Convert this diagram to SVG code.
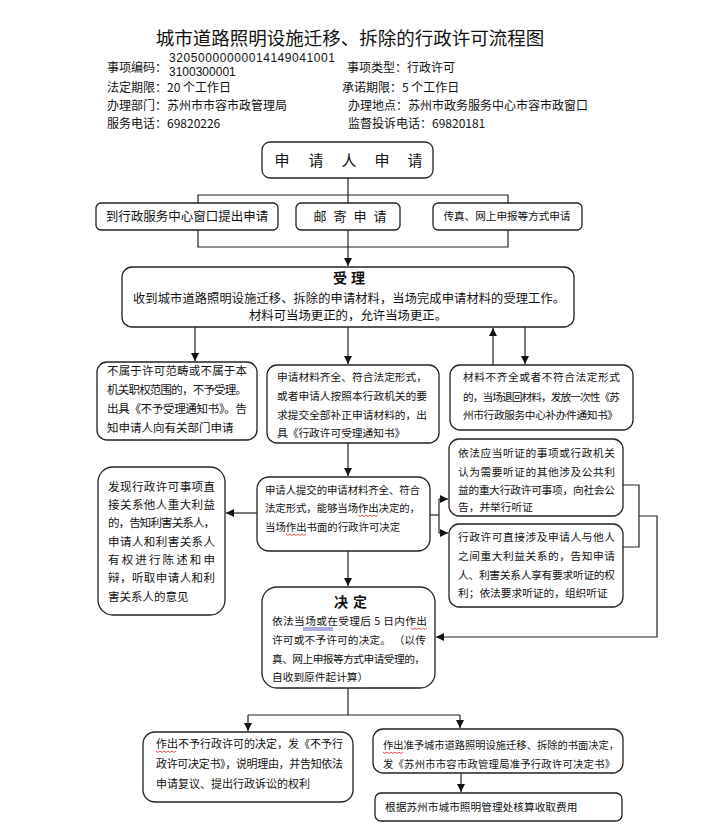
<svg xmlns="http://www.w3.org/2000/svg" width="710" height="832" viewBox="0 0 710 832">
<style>
.box{fill:#fff;stroke:#222;stroke-width:1.3}
.ln{fill:none;stroke:#222;stroke-width:1.2}
.t{font-family:"Noto Sans CJK SC","Noto Sans",sans-serif;fill:#111}
.h{font-size:12px}
.num{font-family:"Liberation Sans",Arial,sans-serif;font-size:12px;fill:#111}
.s11{font-size:11.5px}
.s10{font-size:10.7px}
.b{font-weight:bold;font-size:14px}
.sq{fill:none;stroke:#d22;stroke-width:0.8}
.sqb{fill:none;stroke:#33a;stroke-width:0.8}
</style>
<defs>
<marker id="ar" markerUnits="userSpaceOnUse" markerWidth="8" markerHeight="8" refX="8" refY="4" orient="auto">
<path d="M0,0 L8,4 L0,8 z" fill="#111"/>
</marker>
</defs>
<rect width="710" height="832" fill="#fff"/>

<g id="header">
<text class="t" x="350" y="45" font-size="18.5" text-anchor="middle" fill="#222">城市道路照明设施迁移、拆除的行政许可流程图</text>
<text class="t h" x="107" y="72">事项编码：</text>
<text class="num" x="169" y="62" textLength="166" lengthAdjust="spacing">32050000000014149041001</text>
<text class="num" x="169" y="75.5">3100300001</text>
<text class="t h" x="347" y="72">事项类型：行政许可</text>
<text class="t h" x="107" y="92">法定期限：20 个工作日</text>
<text class="t h" x="342" y="92">承诺期限：5 个工作日</text>
<text class="t h" x="107" y="110">办理部门：苏州市市容市政管理局</text>
<text class="t h" x="348" y="110">办理地点：苏州市政务服务中心市容市政窗口</text>
<text class="t h" x="107" y="128">服务电话：69820226</text>
<text class="t h" x="348" y="128">监督投诉电话：69820181</text>
</g>

<g id="connectors">
<path class="ln" d="M348,178 V266" marker-end="url(#ar)"/>
<path class="ln" d="M198,203 V195 H508 V203"/>
<path class="ln" d="M198,230 V247 H508 V230"/>
<path class="ln" d="M195,327 V361" marker-end="url(#ar)"/>
<path class="ln" d="M348,327 V364" marker-end="url(#ar)"/>
<path class="ln" d="M525,327 V364" marker-end="url(#ar)"/>
<path class="ln" d="M493,365 V328" marker-end="url(#ar)"/>
<path class="ln" d="M348,443 V476" marker-end="url(#ar)"/>
<path class="ln" d="M257,513 H226" marker-end="url(#ar)"/>
<path class="ln" d="M430,515 H439"/>
<path class="ln" d="M439,499 V533"/>
<path class="ln" d="M439,499 H448" marker-end="url(#ar)"/>
<path class="ln" d="M439,533 H448" marker-end="url(#ar)"/>
<path class="ln" d="M622,485 H639 V547 H622"/>
<path class="ln" d="M639,516 H657 V637 H436" marker-end="url(#ar)"/>
<path class="ln" d="M348,551 V586" marker-end="url(#ar)"/>
<path class="ln" d="M348,688 V715"/>
<path class="ln" d="M248,715 H460"/>
<path class="ln" d="M248,715 V731" marker-end="url(#ar)"/>
<path class="ln" d="M460,715 V728" marker-end="url(#ar)"/>
<path class="ln" d="M461,773 V792" marker-end="url(#ar)"/>
</g>

<g id="n-apply">
<rect class="box" x="262" y="142" width="171" height="36" rx="8"/>
<text class="t" font-size="15" y="166" text-anchor="middle"><tspan x="282">申</tspan><tspan x="316">请</tspan><tspan x="349">人</tspan><tspan x="382">申</tspan><tspan x="415">请</tspan></text>
</g>

<g id="n-window">
<rect class="box" x="96" y="203" width="182" height="27" rx="5"/>
<text class="t" font-size="12.5" x="187" y="221" text-anchor="middle">到行政服务中心窗口提出申请</text>
</g>
<g id="n-mail">
<rect class="box" x="296" y="203" width="104" height="27" rx="5"/>
<text class="t" font-size="13" y="221" text-anchor="middle"><tspan x="320">邮</tspan><tspan x="340">寄</tspan><tspan x="360">申</tspan><tspan x="380">请</tspan></text>
</g>
<g id="n-fax">
<rect class="box" x="433" y="203" width="149" height="27" rx="5"/>
<text class="t" font-size="10.6" x="507" y="220" text-anchor="middle">传真、网上申报等方式申请</text>
</g>

<g id="n-accept">
<rect class="box" x="122" y="267" width="452" height="60" rx="10"/>
<text class="t b" y="283" text-anchor="middle"><tspan x="340">受</tspan><tspan x="358">理</tspan></text>
<text class="t" font-size="12.2" x="349" y="303" text-anchor="middle" textLength="432" lengthAdjust="spacing">收到城市道路照明设施迁移、拆除的申请材料，当场完成申请材料的受理工作。</text>
<text class="t" font-size="12.4" x="348" y="320" text-anchor="middle">材料可当场更正的，允许当场更正。</text>
</g>

<g id="n-reject">
<rect class="box" x="97" y="362" width="160" height="78" rx="10"/>
<text class="t s11" x="107" y="375" textLength="140" lengthAdjust="spacing">不属于许可范畴或不属于本</text>
<text class="t s11" x="107" y="394" textLength="140" lengthAdjust="spacing">机关职权范围的，不予受理。</text>
<text class="t s11" x="107" y="413" textLength="140" lengthAdjust="spacing">出具《不予受理通知书》。告</text>
<text class="t s11" x="107" y="432">知申请人向有关部门申请</text>
</g>

<g id="n-complete">
<rect class="box" x="267" y="365" width="172" height="78" rx="10"/>
<text class="t s10" x="277" y="381" textLength="150" lengthAdjust="spacing">申请材料齐全、符合法定形式，</text>
<text class="t s10" x="277" y="400" textLength="150" lengthAdjust="spacing">或者申请人按照本行政机关的要</text>
<text class="t s10" x="277" y="419" textLength="150" lengthAdjust="spacing">求提交全部补正申请材料的，出</text>
<text class="t s10" x="277" y="437">具《行政许可受理通知书》</text>
</g>

<g id="n-incomplete">
<rect class="box" x="450" y="365" width="183" height="65" rx="10"/>
<text class="t s10" x="463" y="381" textLength="157" lengthAdjust="spacing">材料不齐全或者不符合法定形式</text>
<text class="t s10" x="463" y="401" textLength="157" lengthAdjust="spacing">的，当场退回材料，发放一次性《苏</text>
<text class="t s10" x="463" y="419" textLength="155" lengthAdjust="spacing">州市行政服务中心补办件通知书》</text>
</g>

<g id="n-interest">
<rect class="box" x="98" y="467" width="127" height="148" rx="15"/>
<text class="t s11" x="108" y="491" textLength="107" lengthAdjust="spacing">发现行政许可事项直</text>
<text class="t s11" x="108" y="509" textLength="107" lengthAdjust="spacing">接关系他人重大利益</text>
<text class="t s11" x="108" y="527" textLength="107" lengthAdjust="spacing">的，告知利害关系人，</text>
<text class="t s11" x="108" y="546" textLength="107" lengthAdjust="spacing">申请人和利害关系人</text>
<text class="t s11" x="108" y="564" textLength="107" lengthAdjust="spacing">有权进行陈述和申</text>
<text class="t s11" x="108" y="582" textLength="107" lengthAdjust="spacing">辩，听取申请人和利</text>
<text class="t s11" x="108" y="601">害关系人的意见</text>
</g>

<g id="n-onsite">
<rect class="box" x="257" y="477" width="173" height="74" rx="12"/>
<text class="t" font-size="10.4" x="265" y="494" textLength="155" lengthAdjust="spacing">申请人提交的申请材料齐全、符合</text>
<text class="t" font-size="10.4" x="265" y="512" textLength="155" lengthAdjust="spacing">法定形式，能够当场作出决定的，</text>
<text class="t" font-size="10.4" x="265" y="531">当场作出书面的行政许可决定</text>
<path class="sq" d="M358,515 l2,1.5 l2,-1.5 l2,1.5 l2,-1.5 l2,1.5 l2,-1.5 l2,1.5 l2,-1.5 l2,1.5 l2,-1.5"/>
<path class="sq" d="M286,534 l2,1.5 l2,-1.5 l2,1.5 l2,-1.5 l2,1.5 l2,-1.5 l2,1.5 l2,-1.5 l2,1.5 l2,-1.5"/>
</g>

<g id="n-hearing1">
<rect class="box" x="449" y="439" width="174" height="77" rx="10"/>
<text class="t s10" x="458" y="457" textLength="157" lengthAdjust="spacing">依法应当听证的事项或行政机关</text>
<text class="t s10" x="458" y="476" textLength="157" lengthAdjust="spacing">认为需要听证的其他涉及公共利</text>
<text class="t s10" x="458" y="494" textLength="157" lengthAdjust="spacing">益的重大行政许可事项，向社会公</text>
<text class="t s10" x="458" y="511">告，并举行听证</text>
</g>

<g id="n-hearing2">
<rect class="box" x="449" y="524" width="174" height="83" rx="10"/>
<text class="t s10" x="458" y="541" textLength="157" lengthAdjust="spacing">行政许可直接涉及申请人与他人</text>
<text class="t s10" x="458" y="560" textLength="157" lengthAdjust="spacing">之间重大利益关系的，告知申请</text>
<text class="t s10" x="458" y="579" textLength="157" lengthAdjust="spacing">人、利害关系人享有要求听证的权</text>
<text class="t s10" x="458" y="597">利；依法要求听证的，组织听证</text>
</g>

<g id="n-decide">
<rect class="box" x="262" y="587" width="173" height="101" rx="15"/>
<text class="t b" y="607" text-anchor="middle"><tspan x="341">决</tspan><tspan x="360">定</tspan></text>
<text class="t s10" x="272" y="625" textLength="155" lengthAdjust="spacing">依法当场或在受理后 5 日内作出</text>
<text class="t s10" x="272" y="644" textLength="154" lengthAdjust="spacing">许可或不予许可的决定。 （以传</text>
<text class="t s10" x="272" y="663" textLength="153" lengthAdjust="spacing">真、网上申报等方式申请受理的，</text>
<text class="t s10" x="272" y="681">自收到原件起计算）</text>
<path class="sqb" d="M303,628 H333 M303,630 H333"/>
<path class="sq" d="M411,628 l2,1.5 l2,-1.5 l2,1.5 l2,-1.5 l2,1.5 l2,-1.5 l2,1.5 l2,-1.5"/>
</g>

<g id="n-deny">
<rect class="box" x="143" y="732" width="210" height="70" rx="12"/>
<text class="t" font-size="11" x="156" y="748" textLength="187" lengthAdjust="spacing">作出不予行政许可的决定，发《不予行</text>
<text class="t" font-size="11" x="156" y="768" textLength="187" lengthAdjust="spacing">政许可决定书》，说明理由，并告知依法</text>
<text class="t" font-size="11" x="156" y="788">申请复议、提出行政诉讼的权利</text>
<path class="sq" d="M156,751 l2,1.5 l2,-1.5 l2,1.5 l2,-1.5 l2,1.5 l2,-1.5 l2,1.5 l2,-1.5 l2,1.5 l2,-1.5"/>
</g>

<g id="n-grant">
<rect class="box" x="373" y="729" width="250" height="44" rx="10"/>
<text class="t" font-size="10.3" x="383" y="749" textLength="236" lengthAdjust="spacing">作出准予城市道路照明设施迁移、拆除的书面决定，</text>
<text class="t" font-size="10.3" x="383" y="768" textLength="232" lengthAdjust="spacing">发《苏州市市容市政管理局准予行政许可决定书》</text>
<path class="sq" d="M383,752 l2,1.5 l2,-1.5 l2,1.5 l2,-1.5 l2,1.5 l2,-1.5 l2,1.5 l2,-1.5 l2,1.5 l2,-1.5"/>
</g>

<g id="n-fee">
<rect class="box" x="375" y="793" width="247" height="28" rx="6"/>
<text class="t" font-size="10.7" x="385" y="811">根据苏州市城市照明管理处核算收取费用</text>
</g>
</svg>
